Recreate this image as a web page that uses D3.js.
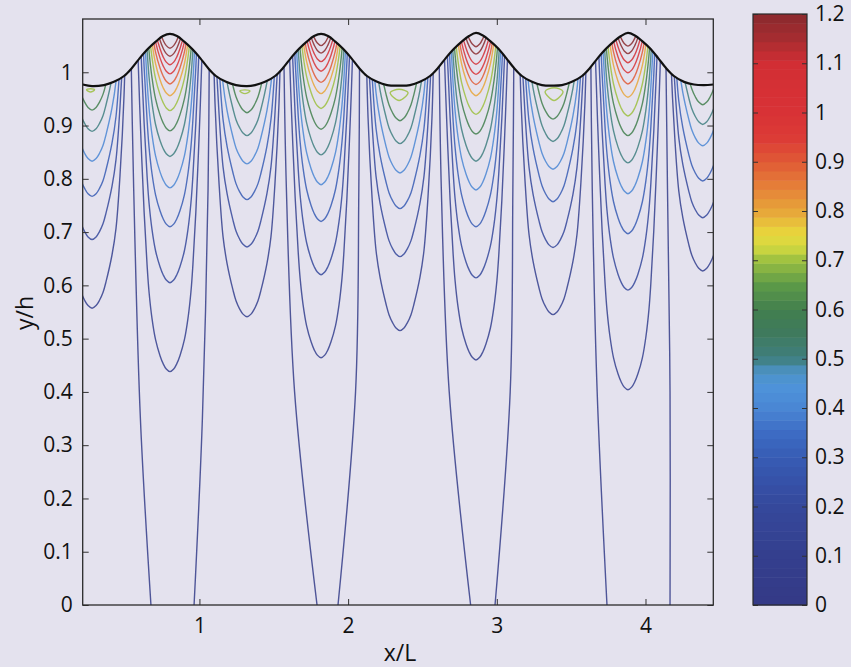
<!DOCTYPE html>
<html>
<head>
<meta charset="utf-8">
<script src="https://cdn.jsdelivr.net/npm/d3@7"></script>
<style>
  body { margin: 0; background: #e4e2ee; }
  svg { display: block; }
</style>
</head>
<body>
<svg id="chart" width="851" height="667"></svg>
<script>
// ---- data (x/L, y/h) ----
const xTicks = [1, 2, 3, 4];
const yTicks = [0, 0.1, 0.2, 0.3, 0.4, 0.5, 0.6, 0.7, 0.8, 0.9, 1];
const barTicks = [0, 0.1, 0.2, 0.3, 0.4, 0.5, 0.6, 0.7, 0.8, 0.9, 1, 1.1, 1.2];

// free surface (black line)
const surface = [
  [0.215,0.977],[0.278,0.974],[0.358,0.976],[0.425,0.982],[0.493,0.993],[0.546,1.008],[0.600,1.027],[0.654,1.044],[0.708,1.058],[0.755,1.068],
  [0.802,1.072],[0.849,1.068],[0.896,1.058],[0.950,1.044],[1.004,1.027],[1.058,1.008],[1.111,0.993],[1.179,0.982],[1.246,0.976],[1.320,0.974],
  [1.374,0.976],[1.441,0.982],[1.509,0.993],[1.562,1.008],[1.616,1.027],[1.670,1.044],[1.724,1.058],[1.771,1.068],[1.818,1.072],[1.865,1.068],
  [1.912,1.058],[1.966,1.044],[2.020,1.027],[2.074,1.008],[2.127,0.993],[2.195,0.982],[2.262,0.976],[2.349,0.975],[2.416,0.976],[2.483,0.982],
  [2.551,0.993],[2.604,1.008],[2.658,1.027],[2.712,1.044],[2.766,1.058],[2.813,1.068],[2.860,1.074],[2.907,1.069],[2.954,1.059],[3.008,1.045],
  [3.062,1.027],[3.116,1.008],[3.169,0.993],[3.237,0.982],[3.304,0.976],[3.378,0.975],[3.438,0.976],[3.505,0.982],[3.573,0.993],[3.626,1.008],
  [3.680,1.027],[3.734,1.044],[3.788,1.058],[3.835,1.068],[3.882,1.074],[3.929,1.069],[3.976,1.059],[4.030,1.045],[4.084,1.027],[4.138,1.008],
  [4.191,0.993],[4.259,0.982],[4.326,0.977],[4.393,0.976],[4.456,0.977]
];

// contours under the crests: bottom of each U, level 0.1 ... 1.3
const crestX = [0.802, 1.818, 2.860, 3.882];
const crestLevels = [0.1, 0.2, 0.3, 0.4, 0.5, 0.6, 0.7, 0.8, 0.9, 1.0, 1.1, 1.2, 1.3];
const crestBottoms = [
  [0.438, 0.605, 0.710, 0.783, 0.842, 0.890, 0.928, 0.956, 0.978, 0.997, 1.014, 1.030, 1.045],
  [0.464, 0.620, 0.720, 0.789, 0.845, 0.893, 0.932, 0.960, 0.981, 1.002, 1.020, 1.036, 1.050],
  [0.460, 0.614, 0.710, 0.779, 0.833, 0.884, 0.921, 0.956, 0.977, 0.996, 1.015, 1.034, 1.048],
  [0.404, 0.591, 0.697, 0.772, 0.830, 0.881, 0.918, 0.953, 0.978, 0.999, 1.018, 1.035, 1.049]
];
// half width of a crest U against height above its bottom
const crestShapeDy = [0, 0.005, 0.015, 0.03, 0.06, 0.1, 0.15, 0.2, 0.3, 0.45, 0.6, 0.8, 1.0, 1.3];
const crestShapeHw = [0, 0.025, 0.046, 0.067, 0.097, 0.121, 0.141, 0.154, 0.174, 0.197, 0.216, 0.235, 0.249, 0.259];

// contours under the troughs, level 0.1 ... 0.6
const troughX = [0.278, 1.320, 2.349, 3.378, 4.385];
const troughLevels = [0.1, 0.2, 0.3, 0.4, 0.5, 0.6];
const troughBottoms = [
  [0.557, 0.686, 0.767, 0.833, 0.889, 0.929],
  [0.541, 0.672, 0.761, 0.828, 0.881, 0.924],
  [0.515, 0.654, 0.744, 0.811, 0.866, 0.909],
  [0.545, 0.671, 0.757, 0.818, 0.870, 0.912],
  [0.627, 0.727, 0.796, 0.862, 0.902, 0.939]
];
const troughShapeDy = [0, 0.005, 0.015, 0.03, 0.05, 0.1, 0.15, 0.25, 0.4, 0.6, 0.9, 1.3];
const troughShapeHw = [0, 0.027, 0.050, 0.074, 0.094, 0.134, 0.161, 0.188, 0.215, 0.232, 0.245, 0.252];

// small closed 0.7 loops just under the troughs
const loopLevel = 0.7;
const loopX = [0.268, 1.306, 2.343, 3.385];
const loopBottom = [0.963, 0.960, 0.947, 0.947];
const loopTop = [0.969, 0.967, 0.968, 0.971];
const loopHalf = [0.027, 0.034, 0.060, 0.060];

// lowest level lines that reach the bed
const deepLevel = 0.03;
const deepLines = [
  [[0.674,0],[0.603,0.35],[0.558,0.78],[0.536,1.1]],
  [[0.964,0],[1.020,0.35],[1.058,0.78],[1.068,1.1]],
  [[1.791,0],[1.640,0.40],[1.585,0.78],[1.565,1.1]],
  [[1.932,0],[2.050,0.40],[2.072,0.78],[2.078,1.1]],
  [[2.824,0],[2.680,0.40],[2.627,0.78],[2.610,1.1]],
  [[2.988,0],[3.090,0.40],[3.108,0.78],[3.116,1.1]],
  [[3.741,0],[3.675,0.40],[3.642,0.78],[3.630,1.1]],
  [[4.165,0],[4.165,0.40],[4.148,0.78],[4.134,1.1]]
];

// colormap as printed on the colorbar
const cmapStops = [0, 0.1, 0.2, 0.25, 0.3, 0.35, 0.4, 0.45, 0.48, 0.5, 0.55, 0.6, 0.65, 0.7, 0.73, 0.76, 0.8, 0.85, 0.9, 0.95, 1.0, 1.1, 1.15, 1.2];
const cmapColors = ["#343a86","#343f8e","#35489b","#3651a8","#375cb4","#3d6cc4","#4a86d4","#4f95da","#4a8fb8","#3f7f80",
                    "#3f7a5e","#427f4e","#5c9a48","#9cc040","#d8dc40","#e8d23c","#e7a63a","#e57f38","#e05a36","#dc3a36",
                    "#d83236","#d22e34","#a62c30","#8a2a2e"];

function getConfig() {
    const svg = d3.select("#chart");
    const plot = {left: 82.7, right: 713.3, top: 19, bottom: 605};
    const x = d3.scaleLinear().domain([0.215, 4.456]).range([plot.left, plot.right]);
    const y = d3.scaleLinear().domain([0, 1.1]).range([plot.bottom, plot.top]);
    const color = d3.scaleLinear().domain(cmapStops).range(cmapColors).clamp(true);
    return {svg, plot, x, y, color};
}

function uShape(cx, yb, dys, hws) {
    const left = dys.map((dy, i) => [cx - hws[i], yb + dy]).reverse();
    const right = dys.slice(1).map((dy, i) => [cx + hws[i + 1], yb + dy]);
    return left.concat(right);
}

function drawContours(cfg) {
    const {svg, x, y, color} = cfg;
    const area = d3.area().x(d => x(d[0])).y0(y(0)).y1(d => y(d[1])).curve(d3.curveCatmullRom.alpha(0.5));
    svg.append("defs").append("clipPath").attr("id", "water")
        .append("path").attr("d", area(surface));

    const line = d3.line().x(d => x(d[0])).y(d => y(d[1])).curve(d3.curveCatmullRom.alpha(0.5));
    const contours = [];
    deepLines.forEach(pts => contours.push({level: deepLevel, pts}));
    crestX.forEach((cx, i) => crestBottoms[i].forEach((yb, j) =>
        contours.push({level: crestLevels[j], pts: uShape(cx, yb, crestShapeDy, crestShapeHw)})));
    troughX.forEach((cx, i) => troughBottoms[i].forEach((yb, j) =>
        contours.push({level: troughLevels[j], pts: uShape(cx, yb, troughShapeDy, troughShapeHw)})));

    const g = svg.append("g").attr("clip-path", "url(#water)");
    g.selectAll("path.contour")
        .data(contours)
        .enter()
        .append("path")
        .attr("class", "contour")
        .attr("d", d => line(d.pts))
        .attr("fill", "none")
        .attr("stroke", d => color(d.level))
        .attr("stroke-width", 1.4)
        .attr("stroke-opacity", 0.85);

    const loop = d3.line().x(d => x(d[0])).y(d => y(d[1])).curve(d3.curveCatmullRomClosed.alpha(0.5));
    g.selectAll("path.loop")
        .data(loopX.map((cx, i) => {
            const h = loopTop[i] - loopBottom[i];
            return [[cx, loopBottom[i]], [cx + loopHalf[i], loopTop[i] - 0.3 * h],
                    [cx, loopTop[i]], [cx - loopHalf[i], loopTop[i] - 0.3 * h]];
        }))
        .enter()
        .append("path")
        .attr("class", "loop")
        .attr("d", loop)
        .attr("fill", "none")
        .attr("stroke", color(loopLevel))
        .attr("stroke-width", 1.4)
        .attr("stroke-opacity", 0.85);

    svg.append("path")
        .attr("d", line(surface))
        .attr("fill", "none")
        .attr("stroke", "#111")
        .attr("stroke-width", 2.2);
}

function styleAxis(g) {
    g.select(".domain").remove();
    g.attr("font-size", 21).attr("font-family", "'Open Sans', sans-serif").attr("color", "#111");
    g.selectAll(".tick line").attr("stroke", "#333").attr("stroke-width", 1);
}

function drawAxes(cfg) {
    const {svg, plot, x, y} = cfg;
    const fmt = d3.format("~g");
    svg.append("g").attr("transform", `translate(0,${plot.bottom})`)
        .call(d3.axisBottom(x).tickValues(xTicks).tickSize(-6).tickPadding(13).tickFormat(fmt)).call(styleAxis);
    svg.append("g").attr("transform", `translate(0,${plot.top})`)
        .call(d3.axisTop(x).tickValues(xTicks).tickSize(-6).tickFormat("")).call(styleAxis);
    svg.append("g").attr("transform", `translate(${plot.left},0)`)
        .call(d3.axisLeft(y).tickValues(yTicks).tickSize(-6).tickPadding(10).tickFormat(fmt)).call(styleAxis);
    svg.append("g").attr("transform", `translate(${plot.right},0)`)
        .call(d3.axisRight(y).tickValues(yTicks).tickSize(-6).tickFormat("")).call(styleAxis);

    svg.append("rect")
        .attr("x", plot.left).attr("y", plot.top)
        .attr("width", plot.right - plot.left).attr("height", plot.bottom - plot.top)
        .attr("fill", "none").attr("stroke", "#2a2a2a").attr("stroke-width", 1.3);

    svg.append("text")
        .attr("x", 400).attr("y", 661)
        .attr("text-anchor", "middle")
        .attr("font-family", "'Open Sans', sans-serif").attr("font-size", 23).attr("fill", "#111")
        .text("x/L");
    svg.append("text")
        .attr("transform", "translate(33,313) rotate(-90)")
        .attr("text-anchor", "middle")
        .attr("font-family", "'Open Sans', sans-serif").attr("font-size", 23).attr("fill", "#111")
        .text("y/h");
}

function drawColorbar(cfg) {
    const {svg, color} = cfg;
    const bar = {left: 753, right: 807, top: 14, bottom: 605};
    const c = d3.scaleLinear().domain([0, 1.2]).range([bar.bottom, bar.top]);
    const n = 64, step = 1.2 / n;
    svg.append("g").selectAll("rect")
        .data(d3.range(n))
        .enter()
        .append("rect")
        .attr("x", bar.left)
        .attr("width", bar.right - bar.left)
        .attr("y", i => c((i + 1) * step))
        .attr("height", i => c(i * step) - c((i + 1) * step) + 0.5)
        .attr("fill", i => color((i + 0.5) * step));

    svg.append("g").attr("transform", `translate(${bar.right},0)`)
        .call(d3.axisRight(c).tickValues(barTicks).tickSize(-5).tickPadding(8).tickFormat(d3.format("~g"))).call(styleAxis);
    svg.append("g").attr("transform", `translate(${bar.left},0)`)
        .call(d3.axisLeft(c).tickValues(barTicks).tickSize(-5).tickFormat("")).call(styleAxis);
    svg.append("rect")
        .attr("x", bar.left).attr("y", bar.top)
        .attr("width", bar.right - bar.left).attr("height", bar.bottom - bar.top)
        .attr("fill", "none").attr("stroke", "#2a2a2a").attr("stroke-width", 1.2);
}

const cfg = getConfig();
drawContours(cfg);
drawAxes(cfg);
drawColorbar(cfg);
</script>
</body>
</html>
